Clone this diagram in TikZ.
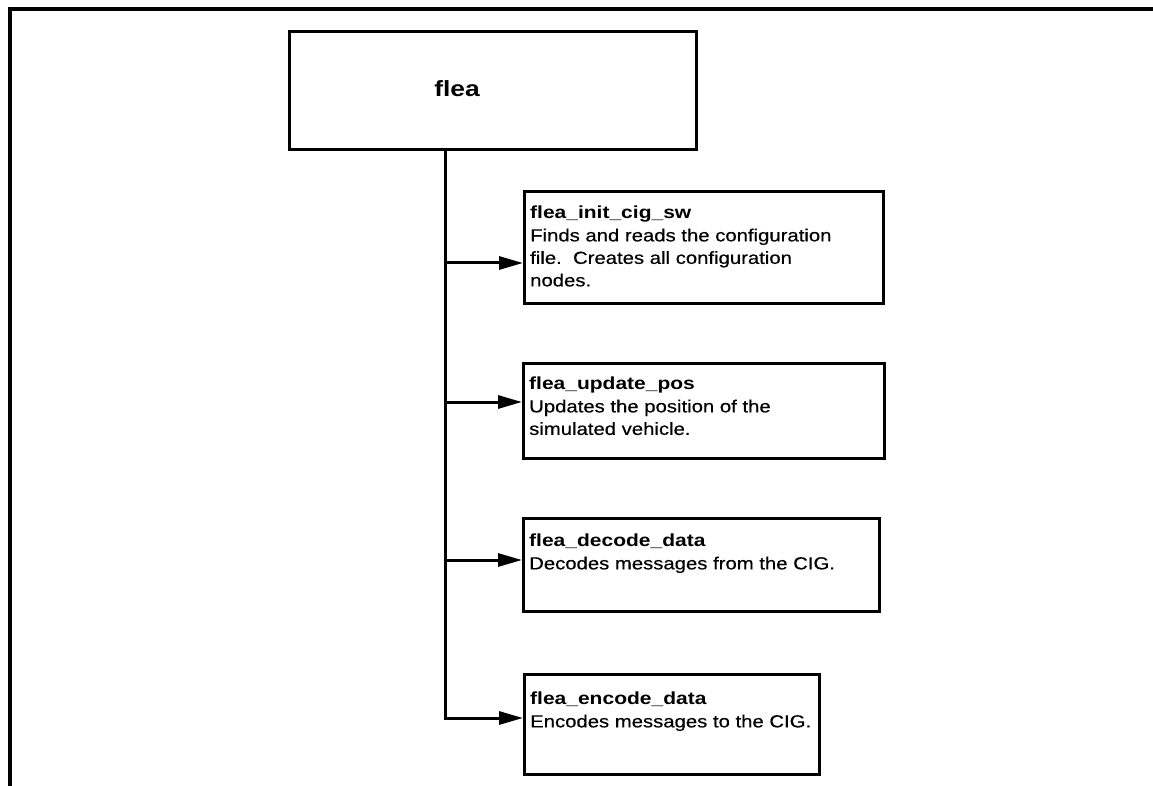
\documentclass[tikz,border=0pt]{standalone}
\usepackage{fontspec}
\setmainfont{Liberation Sans}
\newfontfamily\descfont[FakeStretch=1.16,FakeBold=0.4]{Liberation Sans}
\newfontfamily\headfont[FakeStretch=1.2]{Liberation Sans}
\usetikzlibrary{arrows.meta}
\begin{document}
\begin{tikzpicture}[x=1pt,y=-1pt,
  frameline/.style={line width=3.5pt},
  procbox/.style={draw, rectangle, line width=3pt, inner sep=0pt, anchor=north west},
  desc/.style={anchor=north west, inner sep=0pt, align=left,
    font=\descfont\fontsize{17.5}{22.5}\selectfont},
  toplabel/.style={inner sep=0pt, font=\headfont\bfseries\fontsize{22}{26}\selectfont},
  trunkline/.style={line width=3pt, line join=miter},
  link/.style={line width=3pt, -{Triangle[length=24pt,width=13pt]}}]
\useasboundingbox (0,0) rectangle (1153,786);

% page frame (top and left edges only)
\coordinate (fTL) at (10,9);
\coordinate (fTR) at (1153,9);
\coordinate (fBL) at (10,786);
\draw[frameline] (fTR) -- (fTL) -- (fBL);

% top-level module
\node[procbox, minimum width=407, minimum height=118] (flea) at (288,30) {};
\node[toplabel] (fleatext) at (457,89) {flea};

% called routines
\node[procbox, minimum width=359, minimum height=112] (b1) at (523,190) {};
\node[procbox, minimum width=361, minimum height=95] (b2) at (522,362) {};
\node[procbox, minimum width=356, minimum height=93] (b3) at (522,517) {};
\node[procbox, minimum width=295, minimum height=100] (b4) at (523,673) {};

\node[desc] (t1) at ([shift={(7,16)}]b1.north west)
  {{\headfont\bfseries flea\_init\_cig\_sw}\\Finds and reads the configuration\\file.\ \ Creates all configuration\\nodes.};
\node[desc] (t2) at ([shift={(7,15)}]b2.north west)
  {{\headfont\bfseries flea\_update\_pos}\\Updates the position of the\\simulated vehicle.};
\node[desc] (t3) at ([shift={(7,17)}]b3.north west)
  {{\headfont\bfseries flea\_decode\_data}\\Decodes messages from the CIG.};
\node[desc] (t4) at ([shift={(7,19)}]b4.north west)
  {{\headfont\bfseries flea\_encode\_data}\\Encodes messages to the CIG.};

% call tree connectors
\coordinate (j1) at (445,263);
\coordinate (j2) at (445,402);
\coordinate (j3) at (445,560);
\coordinate (j4) at (445,718);
\draw[trunkline, link] (flea.south -| j1) -- (j4) -- (j4 -| b4.west);
\draw[link] (j1) -- (j1 -| b1.west);
\draw[link] (j2) -- (j2 -| b2.west);
\draw[link] (j3) -- (j3 -| b3.west);
\end{tikzpicture}
\end{document}
